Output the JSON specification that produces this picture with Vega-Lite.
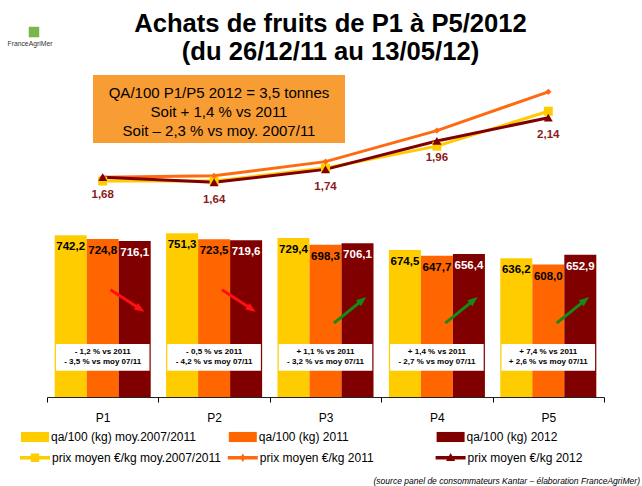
{
  "$schema": "https://vega.github.io/schema/vega-lite/v6.json",
  "width": 557,
  "height": 322,
  "autosize": {"type": "none"},
  "padding": {"left": 47, "top": 75, "right": 38, "bottom": 89},
  "background": "white",
  "config": {
    "font": "Liberation Sans",
    "view": {"stroke": null},
    "locale": {"number": {"decimal": ",", "thousands": " ", "grouping": [3], "currency": ["", " €"]}},
    "legend": {"title": null, "orient": "none", "direction": "horizontal", "columns": 3, "gridAlign": "all", "labelFontSize": 12, "labelColor": "#000000", "labelLimit": 300, "labelOffset": 2, "padding": 0, "rowPadding": 0}
  },
  "title": {
    "text": ["Achats de fruits de P1 à P5/2012", "(du 26/12/11 au 13/05/12)"],
    "font": "Liberation Sans",
    "fontSize": 25.6,
    "fontWeight": "bold",
    "lineHeight": 28,
    "color": "#000000",
    "anchor": "middle",
    "frame": "group",
    "dx": 5,
    "offset": -39
  },
  "datasets": {
    "bars": [
      {"p": "P1", "serie": "qa/100 (kg) moy.2007/2011", "v": 742.2},
      {"p": "P1", "serie": "qa/100 (kg) 2011", "v": 724.8},
      {"p": "P1", "serie": "qa/100 (kg) 2012", "v": 716.1},
      {"p": "P2", "serie": "qa/100 (kg) moy.2007/2011", "v": 751.3},
      {"p": "P2", "serie": "qa/100 (kg) 2011", "v": 723.5},
      {"p": "P2", "serie": "qa/100 (kg) 2012", "v": 719.6},
      {"p": "P3", "serie": "qa/100 (kg) moy.2007/2011", "v": 729.4},
      {"p": "P3", "serie": "qa/100 (kg) 2011", "v": 698.3},
      {"p": "P3", "serie": "qa/100 (kg) 2012", "v": 706.1},
      {"p": "P4", "serie": "qa/100 (kg) moy.2007/2011", "v": 674.5},
      {"p": "P4", "serie": "qa/100 (kg) 2011", "v": 647.7},
      {"p": "P4", "serie": "qa/100 (kg) 2012", "v": 656.4},
      {"p": "P5", "serie": "qa/100 (kg) moy.2007/2011", "v": 636.2},
      {"p": "P5", "serie": "qa/100 (kg) 2011", "v": 608.0},
      {"p": "P5", "serie": "qa/100 (kg) 2012", "v": 652.9}
    ],
    "prix": [
      {"p": "P1", "serie": "prix moyen €/kg moy.2007/2011", "v": 1.65},
      {"p": "P2", "serie": "prix moyen €/kg moy.2007/2011", "v": 1.65},
      {"p": "P3", "serie": "prix moyen €/kg moy.2007/2011", "v": 1.75},
      {"p": "P4", "serie": "prix moyen €/kg moy.2007/2011", "v": 1.92},
      {"p": "P5", "serie": "prix moyen €/kg moy.2007/2011", "v": 2.19},
      {"p": "P1", "serie": "prix moyen €/kg 2011", "v": 1.68},
      {"p": "P2", "serie": "prix moyen €/kg 2011", "v": 1.69},
      {"p": "P3", "serie": "prix moyen €/kg 2011", "v": 1.80},
      {"p": "P4", "serie": "prix moyen €/kg 2011", "v": 2.04},
      {"p": "P5", "serie": "prix moyen €/kg 2011", "v": 2.34},
      {"p": "P1", "serie": "prix moyen €/kg 2012", "v": 1.68},
      {"p": "P2", "serie": "prix moyen €/kg 2012", "v": 1.64},
      {"p": "P3", "serie": "prix moyen €/kg 2012", "v": 1.74},
      {"p": "P4", "serie": "prix moyen €/kg 2012", "v": 1.96},
      {"p": "P5", "serie": "prix moyen €/kg 2012", "v": 2.14}
    ],
    "notes": [
      {"p": "P1", "txt": ["- 1,2 % vs 2011", "- 3,5 % vs moy 07/11"], "sens": "baisse"},
      {"p": "P2", "txt": ["- 0,5 % vs 2011", "- 4,2 % vs moy 07/11"], "sens": "baisse"},
      {"p": "P3", "txt": ["+ 1,1 % vs 2011", "- 3,2 % vs moy 07/11"], "sens": "hausse"},
      {"p": "P4", "txt": ["+ 1,4 % vs 2011", "- 2,7 % vs moy 07/11"], "sens": "hausse"},
      {"p": "P5", "txt": ["+ 7,4 % vs 2011", "+ 2,6 % vs moy 07/11"], "sens": "hausse"}
    ]
  },
  "resolve": {"scale": {"x": "independent", "y": "independent", "xOffset": "independent"}},
  "layer": [
    {
      "data": {"name": "bars"},
      "mark": {"type": "bar"},
      "encoding": {
        "x": {
          "field": "p", "type": "nominal",
          "scale": {"type": "band", "domain": ["P1", "P2", "P3", "P4", "P5"], "paddingInner": 0, "paddingOuter": 0},
          "axis": {"title": null, "labelAngle": 0, "labelFontSize": 12, "labelColor": "#000000", "labelPadding": 10, "tickSize": 5, "tickBand": "extent", "tickColor": "#000000", "domainColor": "#222222", "grid": false}
        },
        "xOffset": {
          "field": "serie", "type": "nominal",
          "scale": {"type": "band", "domain": ["qa/100 (kg) moy.2007/2011", "qa/100 (kg) 2011", "qa/100 (kg) 2012"], "paddingInner": 0, "paddingOuter": 0.24}
        },
        "y": {"field": "v", "type": "quantitative", "scale": {"domain": [0, 1477.7], "nice": false, "zero": false}, "axis": null},
        "fill": {
          "field": "serie", "type": "nominal",
          "scale": {"domain": ["qa/100 (kg) moy.2007/2011", "qa/100 (kg) 2011", "qa/100 (kg) 2012"], "range": ["#FFCC00", "#FF6600", "#800000"]},
          "legend": {"legendX": -26, "legendY": 348, "columnPadding": 32.8, "symbolType": "M-1,-0.36H1V0.36H-1Z", "symbolSize": 784, "symbolStrokeWidth": 0, "symbolOpacity": 1}
        }
      }
    },
    {
      "data": {"name": "bars"},
      "mark": {"type": "text", "baseline": "middle", "dy": 12, "fontSize": 11.5, "fontWeight": "bold"},
      "encoding": {
        "x": {"field": "p", "type": "nominal", "scale": {"type": "band", "domain": ["P1", "P2", "P3", "P4", "P5"], "paddingInner": 0, "paddingOuter": 0}, "axis": null},
        "xOffset": {"field": "serie", "type": "nominal", "scale": {"type": "point", "domain": ["qa/100 (kg) moy.2007/2011", "qa/100 (kg) 2011", "qa/100 (kg) 2012"], "padding": 0.74}},
        "y": {"field": "v", "type": "quantitative", "scale": {"domain": [0, 1477.7], "nice": false, "zero": false}, "axis": null},
        "text": {"field": "v", "type": "quantitative", "format": ".1f"},
        "color": {"condition": {"test": "datum.serie === 'qa/100 (kg) 2012'", "value": "#FFFFFF"}, "value": "#000000"}
      }
    },
    {
      "data": {"name": "notes"},
      "mark": {"type": "bar", "width": {"band": 0.84}, "fill": "#FFFFFF"},
      "encoding": {
        "x": {"field": "p", "type": "nominal", "scale": {"type": "band", "domain": ["P1", "P2", "P3", "P4", "P5"], "paddingInner": 0, "paddingOuter": 0}, "axis": null},
        "y": {"datum": 243, "type": "quantitative", "scale": {"domain": [0, 1477.7], "nice": false, "zero": false}, "axis": null},
        "y2": {"datum": 121}
      }
    },
    {
      "data": {"name": "notes"},
      "mark": {"type": "text", "baseline": "middle", "fontSize": 8, "fontWeight": "bold", "lineHeight": 10, "color": "#000000"},
      "encoding": {
        "x": {"field": "p", "type": "nominal", "scale": {"type": "band", "domain": ["P1", "P2", "P3", "P4", "P5"], "paddingInner": 0, "paddingOuter": 0}, "axis": null},
        "y": {"datum": 205, "type": "quantitative", "scale": {"domain": [0, 1477.7], "nice": false, "zero": false}, "axis": null},
        "text": {"field": "txt"}
      }
    },
    {
      "data": {"name": "notes"},
      "mark": {"type": "point", "size": 1600, "strokeWidth": 3, "opacity": 1, "strokeJoin": "miter"},
      "encoding": {
        "x": {"field": "p", "type": "nominal", "bandPosition": 0.71, "scale": {"type": "band", "domain": ["P1", "P2", "P3", "P4", "P5"], "paddingInner": 0, "paddingOuter": 0}, "axis": null},
        "y": {"datum": 420, "type": "quantitative", "scale": {"domain": [0, 1477.7], "nice": false, "zero": false}, "axis": null},
        "shape": {"condition": {"test": "datum.sens === 'baisse'", "value": "M-0.78,-0.785L0.552,0.081M0.74,0.205L0.504,0.154L0.6,0.008Z"}, "value": "M-0.75,0.885L0.535,-0.1585M0.71,-0.3L0.59,-0.0905L0.48,-0.2265Z"},
        "fill": {"condition": {"test": "datum.sens === 'baisse'", "value": "#FF1010"}, "value": "#168A16"},
        "stroke": {"condition": {"test": "datum.sens === 'baisse'", "value": "#FF1010"}, "value": "#168A16"}
      }
    },
    {
      "data": {"name": "prix"},
      "mark": {"type": "line", "strokeWidth": 3},
      "encoding": {
        "x": {"field": "p", "type": "nominal", "scale": {"type": "band", "domain": ["P1", "P2", "P3", "P4", "P5"], "paddingInner": 0, "paddingOuter": 0}, "axis": null},
        "y": {"field": "v", "type": "quantitative", "scale": {"domain": [-0.0218, 2.4705], "nice": false, "zero": false}, "axis": null},
        "color": {
          "field": "serie", "type": "nominal",
          "scale": {"domain": ["prix moyen €/kg moy.2007/2011", "prix moyen €/kg 2011", "prix moyen €/kg 2012"], "range": ["#FFCC00", "#FF6A10", "#800000"]},
          "legend": {"legendX": -27, "legendY": 367.7, "columnPadding": 6.8, "symbolSize": 900,
            "encode": {"symbols": {"update": {
              "shape": {"signal": "datum.value === 'prix moyen €/kg moy.2007/2011' ? 'M-1,-0.12H1V0.12H-1Z M-0.28,-0.28H0.28V0.28H-0.28Z' : datum.value === 'prix moyen €/kg 2011' ? 'M-1,-0.12H1V0.12H-1Z M0,-0.28L0.18,0L0,0.28L-0.18,0Z' : 'M-1,-0.12H1V0.12H-1Z M0,-0.32L0.3,0.22L-0.3,0.22Z'"},
              "fill": {"scale": "color", "field": "value"},
              "strokeWidth": {"value": 0},
              "opacity": {"value": 1}
            }}}
          }
        }
      }
    },
    {
      "data": {"name": "prix"},
      "transform": [{"filter": "datum.serie === 'prix moyen €/kg moy.2007/2011'"}],
      "mark": {"type": "point", "filled": true, "opacity": 1, "shape": "square", "size": 81, "color": "#FFCC00"},
      "encoding": {
        "x": {"field": "p", "type": "nominal", "scale": {"type": "band", "domain": ["P1", "P2", "P3", "P4", "P5"], "paddingInner": 0, "paddingOuter": 0}, "axis": null},
        "y": {"field": "v", "type": "quantitative", "scale": {"domain": [-0.0218, 2.4705], "nice": false, "zero": false}, "axis": null}
      }
    },
    {
      "data": {"name": "prix"},
      "transform": [{"filter": "datum.serie === 'prix moyen €/kg 2011'"}],
      "mark": {"type": "point", "filled": true, "opacity": 1, "shape": "diamond", "size": 40, "color": "#FF6A10"},
      "encoding": {
        "x": {"field": "p", "type": "nominal", "scale": {"type": "band", "domain": ["P1", "P2", "P3", "P4", "P5"], "paddingInner": 0, "paddingOuter": 0}, "axis": null},
        "y": {"field": "v", "type": "quantitative", "scale": {"domain": [-0.0218, 2.4705], "nice": false, "zero": false}, "axis": null}
      }
    },
    {
      "data": {"name": "prix"},
      "transform": [{"filter": "datum.serie === 'prix moyen €/kg 2012'"}],
      "mark": {"type": "point", "filled": true, "opacity": 1, "shape": "triangle-up", "size": 80, "color": "#800000"},
      "encoding": {
        "x": {"field": "p", "type": "nominal", "scale": {"type": "band", "domain": ["P1", "P2", "P3", "P4", "P5"], "paddingInner": 0, "paddingOuter": 0}, "axis": null},
        "y": {"field": "v", "type": "quantitative", "scale": {"domain": [-0.0218, 2.4705], "nice": false, "zero": false}, "axis": null}
      }
    },
    {
      "data": {"name": "prix"},
      "transform": [{"filter": "datum.serie === 'prix moyen €/kg 2012'"}],
      "mark": {"type": "text", "baseline": "middle", "dy": 17.5, "fontSize": 11.5, "fontWeight": "bold", "color": "#8B1A1A"},
      "encoding": {
        "x": {"field": "p", "type": "nominal", "scale": {"type": "band", "domain": ["P1", "P2", "P3", "P4", "P5"], "paddingInner": 0, "paddingOuter": 0}, "axis": null},
        "y": {"field": "v", "type": "quantitative", "scale": {"domain": [-0.0218, 2.4705], "nice": false, "zero": false}, "axis": null},
        "text": {"field": "v", "type": "quantitative", "format": ".2f"}
      }
    },
    {
      "data": {"values": [{"txt": ["QA/100 P1/P5 2012 = 3,5 tonnes", "Soit + 1,4 % vs 2011", "Soit – 2,3 % vs moy. 2007/11"]}]},
      "layer": [
        {
          "mark": {"type": "rect", "fill": "#F89C34"},
          "encoding": {
            "x": {"datum": 0.413, "type": "quantitative", "scale": {"domain": [0, 5], "nice": false, "zero": false}, "axis": null},
            "x2": {"datum": 2.675},
            "y": {"datum": 2.4705, "type": "quantitative", "scale": {"domain": [-0.0218, 2.4705], "nice": false, "zero": false}, "axis": null},
            "y2": {"datum": 1.9442}
          }
        },
        {
          "mark": {"type": "text", "baseline": "middle", "align": "center", "fontSize": 15, "lineHeight": 19, "color": "#000000"},
          "encoding": {
            "x": {"datum": 1.544, "type": "quantitative", "scale": {"domain": [0, 5], "nice": false, "zero": false}, "axis": null},
            "y": {"datum": 2.3335, "type": "quantitative", "scale": {"domain": [-0.0218, 2.4705], "nice": false, "zero": false}, "axis": null},
            "text": {"field": "txt"}
          }
        }
      ]
    },
    {
      "data": {"values": [{"nom": "FranceAgriMer", "src": "(source panel de consommateurs Kantar – élaboration FranceAgriMer)"}]},
      "layer": [
        {
          "mark": {"type": "text", "baseline": "middle", "align": "center", "fontSize": 6.8, "color": "#333333"},
          "encoding": {
            "x": {"datum": -0.153, "type": "quantitative", "scale": {"domain": [0, 5], "nice": false, "zero": false}, "axis": null},
            "y": {"datum": 2.7128, "type": "quantitative", "scale": {"domain": [-0.0218, 2.4705], "nice": false, "zero": false}, "axis": null},
            "text": {"field": "nom"}
          }
        },
        {
          "mark": {"type": "point", "shape": "square", "filled": true, "size": 110, "opacity": 1, "color": "#7AB648"},
          "encoding": {
            "x": {"datum": -0.117, "type": "quantitative", "scale": {"domain": [0, 5], "nice": false, "zero": false}, "axis": null},
            "y": {"datum": 2.803, "type": "quantitative", "scale": {"domain": [-0.0218, 2.4705], "nice": false, "zero": false}, "axis": null}
          }
        },
        {
          "mark": {"type": "text", "baseline": "middle", "align": "right", "fontSize": 8.5, "fontStyle": "italic", "color": "#000000"},
          "encoding": {
            "x": {"datum": 5.323, "type": "quantitative", "scale": {"domain": [0, 5], "nice": false, "zero": false}, "axis": null},
            "y": {"datum": -0.672, "type": "quantitative", "scale": {"domain": [-0.0218, 2.4705], "nice": false, "zero": false}, "axis": null},
            "text": {"field": "src"}
          }
        }
      ]
    }
  ]
}
